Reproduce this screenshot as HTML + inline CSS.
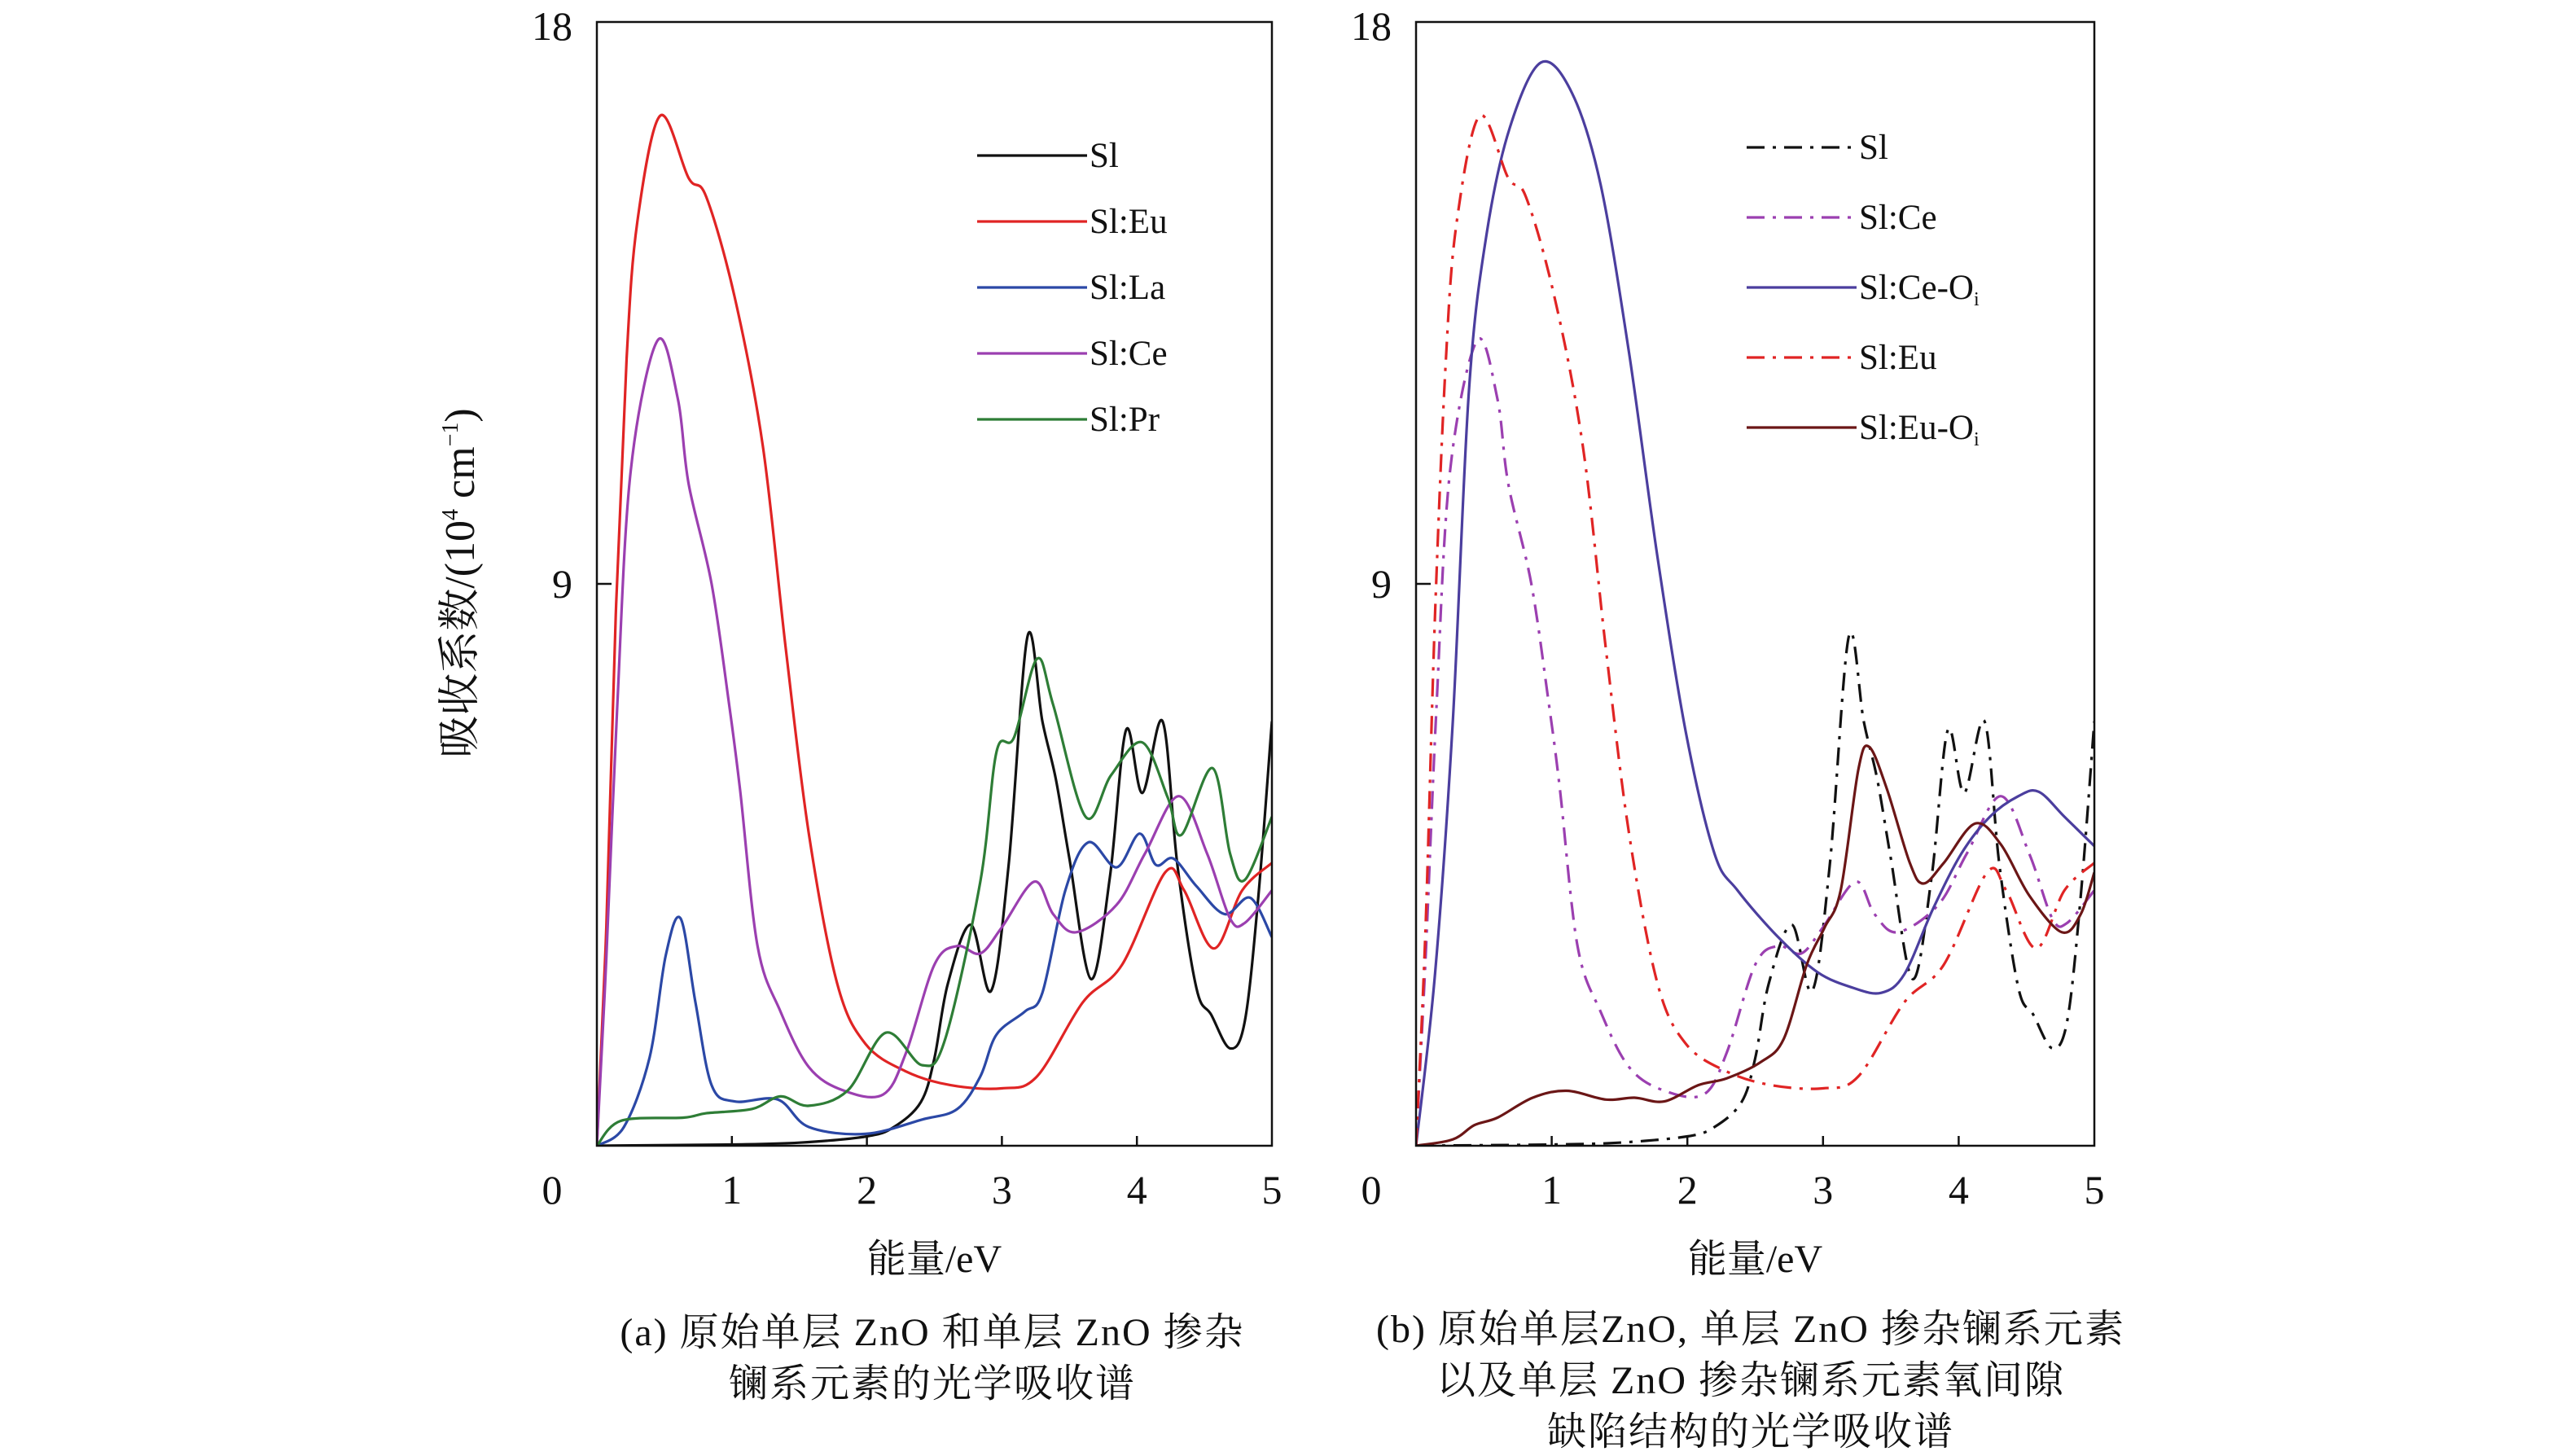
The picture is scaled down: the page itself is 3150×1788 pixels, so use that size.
<!DOCTYPE html>
<html><head><meta charset="utf-8">
<style>
html,body{margin:0;padding:0;background:#fff;}
body{width:3150px;height:1783px;overflow:hidden;}
svg text{font-family:"Liberation Serif","Noto Serif CJK SC",serif;fill:#111;}
</style></head>
<body>
<svg id="chart" width="3150" height="1783" viewBox="0 0 3150 1783" xmlns="http://www.w3.org/2000/svg"></svg>
<script>
// ---- data (energy eV / absorption 10^4 cm^-1) ----
const xTicks = [0,1,2,3,4,5];
const yTicks = [0,9,18];
const slE = [0,1,1.5,2,2.2,2.4,2.5,2.6,2.77,2.92,3.05,3.19,3.3,3.4,3.5,3.66,3.8,3.92,4.04,4.19,4.3,4.44,4.55,4.69,4.8,4.9,5.0];
const slA = [0,0.02,0.05,0.15,0.3,0.7,1.4,2.6,3.54,2.48,4.5,8.16,6.8,5.87,4.6,2.67,4.3,6.66,5.65,6.8,4.5,2.53,2.1,1.56,2.0,4.0,6.8];
const euE = [0,0.07,0.14,0.22,0.3,0.47,0.68,0.81,1.02,1.23,1.4,1.57,1.78,1.99,2.29,2.62,3.0,3.26,3.6,3.89,4.21,4.35,4.57,4.78,5.0];
const euA = [0,3.5,8.5,12.6,14.8,16.5,15.5,15.2,13.6,11.2,7.95,5.0,2.6,1.63,1.19,0.97,0.92,1.11,2.3,2.9,4.38,4.09,3.16,4.09,4.53];
const ceE = [0,0.07,0.15,0.25,0.45,0.6,0.68,0.85,0.98,1.06,1.19,1.36,1.57,1.82,2.12,2.29,2.5,2.67,2.84,3.0,3.24,3.38,3.55,3.85,4.06,4.31,4.52,4.69,4.8,5.0];
const ceA = [0,3,7,10.8,12.9,11.96,10.6,9.0,7.06,5.72,3.2,2.15,1.26,0.89,0.82,1.49,2.9,3.2,3.08,3.5,4.23,3.71,3.42,3.86,4.68,5.6,4.68,3.64,3.57,4.09];
const laE = [0,0.2,0.39,0.51,0.62,0.73,0.85,1.02,1.34,1.57,1.99,2.41,2.67,2.84,2.96,3.17,3.3,3.47,3.64,3.85,4.02,4.14,4.27,4.44,4.65,4.84,5.0];
const laA = [0,0.3,1.41,3.05,3.64,2.3,0.97,0.71,0.74,0.3,0.19,0.42,0.59,1.11,1.78,2.15,2.45,4.09,4.86,4.46,5.0,4.5,4.6,4.16,3.71,3.97,3.34];
const prE = [0,0.18,0.64,0.81,1.15,1.36,1.57,1.86,2.14,2.41,2.58,2.84,2.96,3.09,3.26,3.38,3.62,3.81,4.04,4.23,4.33,4.56,4.69,4.8,5.0];
const prA = [0,0.4,0.45,0.52,0.59,0.79,0.64,0.89,1.81,1.29,1.71,4.23,6.31,6.54,7.8,7.06,5.27,5.94,6.46,5.57,4.98,6.05,4.68,4.26,5.27];
const ceOiE = [0,0.14,0.27,0.39,0.52,0.69,0.92,1.15,1.36,1.57,1.78,1.99,2.2,2.37,2.67,2.96,3.22,3.43,3.6,3.81,4.02,4.23,4.44,4.59,4.78,5.0];
const ceOiA = [0,2.75,6.76,12.1,14.6,16.3,17.35,16.86,15.4,12.7,9.43,6.61,4.68,4.09,3.34,2.78,2.53,2.45,2.75,3.79,4.68,5.27,5.6,5.67,5.27,4.8];
const euOiE = [0,0.27,0.43,0.6,0.86,1.11,1.4,1.61,1.83,2.08,2.29,2.54,2.71,2.88,3.01,3.13,3.26,3.34,3.47,3.64,3.74,3.89,4.12,4.31,4.52,4.76,4.9,5.0];
const euOiA = [0,0.1,0.33,0.45,0.77,0.88,0.74,0.77,0.71,0.97,1.08,1.34,1.71,2.9,3.49,4.09,6.02,6.39,5.72,4.53,4.2,4.53,5.16,4.83,4.01,3.42,3.71,4.38];

const NS="http://www.w3.org/2000/svg";
const svg=document.getElementById('chart');
function mk(tag,attrs,parent){const e=document.createElementNS(NS,tag);for(const k in attrs)e.setAttribute(k,attrs[k]);(parent||svg).appendChild(e);return e;}
const TOP=27,BOT=1407;
function path(xs,ys,sx,sy){
  const p=xs.map((x,i)=>[sx(x),sy(ys[i])]);
  let d='M'+p[0][0].toFixed(1)+','+p[0][1].toFixed(1);
  for(let i=0;i<p.length-1;i++){
    const p0=p[i-1]||p[i],p1=p[i],p2=p[i+1],p3=p[i+2]||p2;
    const t=1/6;
    const c1=[p1[0]+(p2[0]-p0[0])*t,p1[1]+(p2[1]-p0[1])*t];
    const c2=[p2[0]-(p3[0]-p1[0])*t,p2[1]-(p3[1]-p1[1])*t];
    d+=' C'+c1[0].toFixed(1)+','+c1[1].toFixed(1)+' '+c2[0].toFixed(1)+','+c2[1].toFixed(1)+' '+p2[0].toFixed(1)+','+p2[1].toFixed(1);
  }
  return d;
}
function panel(id,L,R,series,legX,legY,legDy,caption,capCx,capY){
  const sx=v=>L+(R-L)*v/5, sy=v=>BOT-(BOT-TOP)*v/18;
  const g=mk('g',{});
  
  
  const clip=mk('clipPath',{id:id+'-clip'},g);
  mk('rect',{x:L,y:TOP,width:R-L,height:BOT-TOP},clip);
  series.forEach(s=>{
    const el=mk('path',{d:path(s.x,s.y,sx,sy),fill:'none',stroke:s.c,'stroke-width':3.2,'stroke-dasharray':s.dash||'none','clip-path':'url(#'+id+'-clip)'},g);
    
    
  });
  const fr=mk('rect',{x:L,y:TOP,width:R-L,height:BOT-TOP,fill:'none',stroke:'#111','stroke-width':2.5},g);
  
  
  xTicks.forEach(v=>{
    if(v>0&&v<5){const tk=mk('line',{x1:sx(v),x2:sx(v),y1:BOT,y2:BOT-12,stroke:'#111','stroke-width':2.5},g);
      }
    const t=mk('text',{x:(v===0?L-55:sx(v)),y:1478,'font-size':50,'text-anchor':'middle'},g);
    t.textContent=v;
    
    
  });
  yTicks.forEach(v=>{
    if(v===0)return;
    if(v===9){const tk=mk('line',{x1:L,x2:L+18,y1:sy(v),y2:sy(v),stroke:'#111','stroke-width':2.5},g);
      }
    const t=mk('text',{x:L-30,y:sy(v)+(v===18?22:17),'font-size':50,'text-anchor':'end'},g);
    t.textContent=v;
    
    
  });
  const xl=mk('text',{x:(L+R)/2,y:1562,'font-size':48,'text-anchor':'middle'},g);
  xl.textContent='能量/eV';
  
  
  series.forEach((s,i)=>{
    const y=legY+i*legDy;
    const ln=mk('line',{x1:legX,x2:legX+135,y1:y,y2:y,stroke:s.c,'stroke-width':3.2,'stroke-dasharray':s.dash||'none'},g);
    
    
    const t=mk('text',{x:legX+138,y:y+14,'font-size':43},g);
    t.textContent=s.label;
    if(s.sub){const ts=mk('tspan',{'font-size':24,dy:8},t);ts.textContent='i';}
    
    
  });
  caption.forEach((line,i)=>{
    const t=mk('text',{x:capCx,y:capY+i*63,'font-size':48,'text-anchor':'middle','letter-spacing':2},g);
    t.textContent=line;
    
    
  });
}
const DD='22 10 4 10';
panel('panel-a',733,1562,[
  {key:'sl',label:'Sl',x:slE,y:slA,c:'#111'},
  {key:'eu',label:'Sl:Eu',x:euE,y:euA,c:'#e02424'},
  {key:'la',label:'Sl:La',x:laE,y:laA,c:'#2b48a6'},
  {key:'ce',label:'Sl:Ce',x:ceE,y:ceA,c:'#9b3fb0'},
  {key:'pr',label:'Sl:Pr',x:prE,y:prA,c:'#2e7d36'}
],1200,191,81,['(a) 原始单层 ZnO 和单层 ZnO 掺杂','镧系元素的光学吸收谱'],1145,1652);
panel('panel-b',1739,2572,[
  {key:'sl',label:'Sl',x:slE,y:slA,c:'#111',dash:DD},
  {key:'ce',label:'Sl:Ce',x:ceE,y:ceA,c:'#9b3fb0',dash:DD},
  {key:'ce-oi',label:'Sl:Ce-O',sub:true,x:ceOiE,y:ceOiA,c:'#4b3e9e'},
  {key:'eu',label:'Sl:Eu',x:euE,y:euA,c:'#e02424',dash:DD},
  {key:'eu-oi',label:'Sl:Eu-O',sub:true,x:euOiE,y:euOiA,c:'#6b1616'}
],2145,181,86,['(b) 原始单层ZnO, 单层 ZnO 掺杂镧系元素','以及单层 ZnO 掺杂镧系元素氧间隙','缺陷结构的光学吸收谱'],2150,1648);
// y-axis title
const yt=mk('text',{x:0,y:0,'font-size':52,'text-anchor':'middle',transform:'translate(582,716) rotate(-90)'});


yt.appendChild(document.createTextNode('吸收系数/(10'));
const s1=mk('tspan',{'font-size':28,dy:-20},yt);s1.textContent='4';
const s2=mk('tspan',{dy:20},yt);s2.textContent=' cm';
const s3=mk('tspan',{'font-size':28,dy:-20},yt);s3.textContent='−1';
const s4=mk('tspan',{dy:20},yt);s4.textContent=')';
</script>
</body></html>
